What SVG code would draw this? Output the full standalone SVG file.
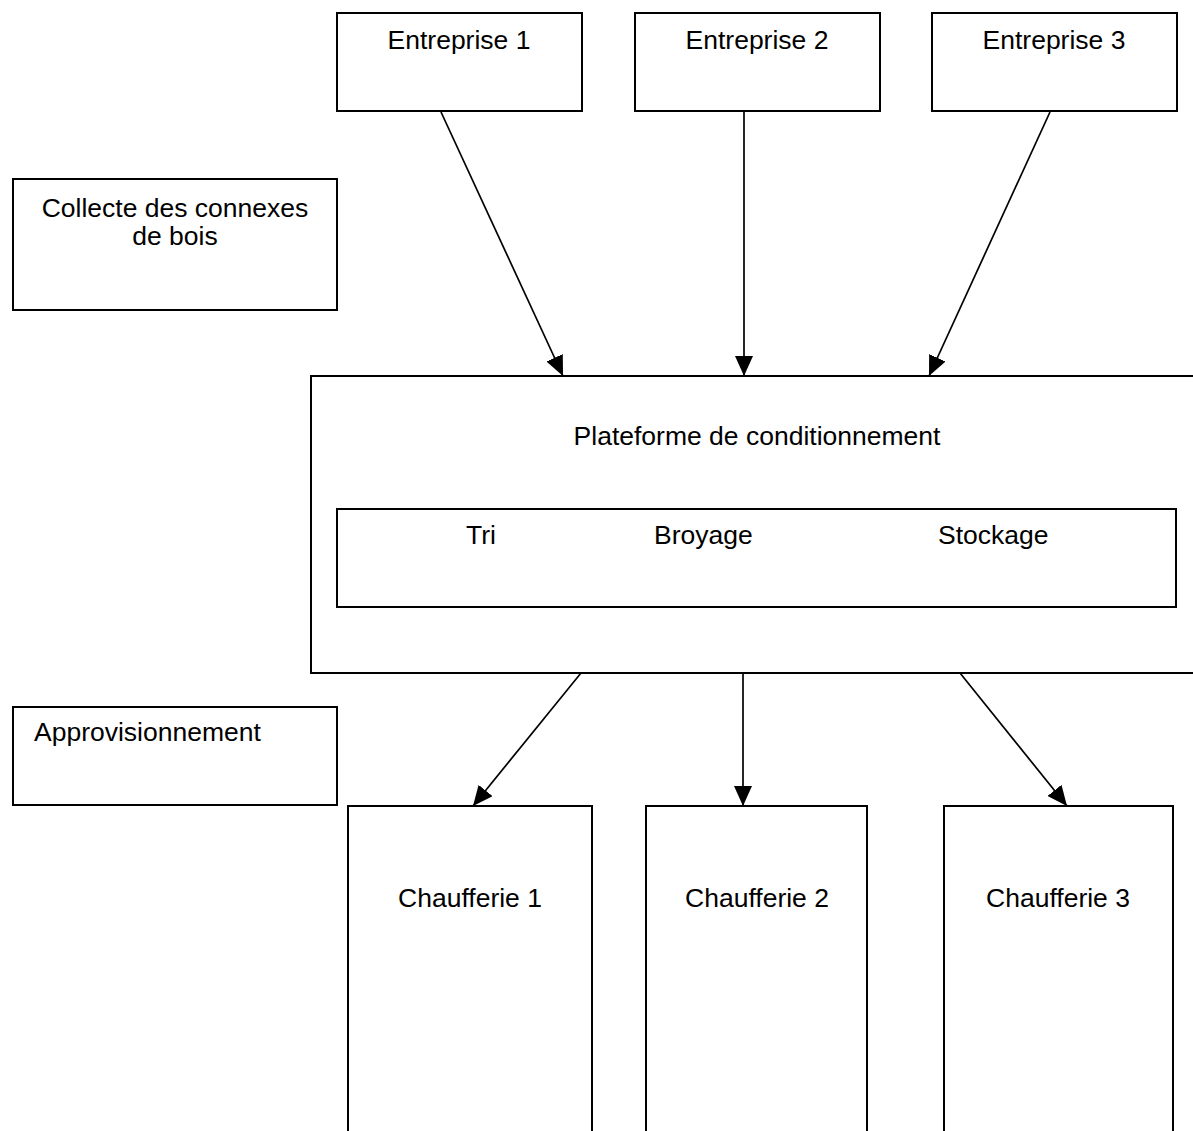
<svg xmlns="http://www.w3.org/2000/svg" width="1193" height="1131" viewBox="0 0 1193 1131">
<defs>
<style>
.box{fill:#fff;stroke:#000;stroke-width:2}
.open{fill:none;stroke:#000;stroke-width:2}
.t{font-family:"Liberation Sans",Arial,sans-serif;font-size:26.5px;fill:#000}
.c{text-anchor:middle}
.ln{stroke:#000;stroke-width:1.7;fill:none;marker-end:url(#ah)}
</style>
<marker id="ah" markerUnits="userSpaceOnUse" markerWidth="20" markerHeight="18" viewBox="0 0 20 18" refX="20" refY="9" orient="auto">
<path d="M0,0 L20,9 L0,18 Z" fill="#000"/>
</marker>
</defs>
<rect width="1193" height="1131" fill="#fff"/>
<g id="entreprise1"><rect class="box" x="337" y="13" width="245" height="98"/><text class="t c" x="459" y="49">Entreprise 1</text></g>
<g id="entreprise2"><rect class="box" x="635" y="13" width="245" height="98"/><text class="t c" x="757" y="49">Entreprise 2</text></g>
<g id="entreprise3"><rect class="box" x="932" y="13" width="245" height="98"/><text class="t c" x="1054" y="49">Entreprise 3</text></g>
<g id="collecte"><rect class="box" x="13" y="179" width="324" height="131"/><text class="t c" x="175" y="217">Collecte des connexes</text><text class="t c" x="175" y="245">de bois</text></g>
<g id="plateforme"><path class="open" d="M1194,376 H311 V673 H1194"/><text class="t c" x="757" y="445">Plateforme de conditionnement</text></g>
<g id="etapes"><rect class="box" x="337" y="509" width="839" height="98"/><text class="t" x="466" y="544">Tri</text><text class="t" x="654" y="544">Broyage</text><text class="t" x="938" y="544">Stockage</text></g>
<g id="approvisionnement"><rect class="box" x="13" y="707" width="324" height="98"/><text class="t" x="34" y="741">Approvisionnement</text></g>
<g id="chaufferie1"><path class="open" d="M348,1132 V806 H592 V1132"/><text class="t c" x="470" y="907">Chaufferie 1</text></g>
<g id="chaufferie2"><path class="open" d="M646,1132 V806 H867 V1132"/><text class="t c" x="757" y="907">Chaufferie 2</text></g>
<g id="chaufferie3"><path class="open" d="M944,1132 V806 H1173 V1132"/><text class="t c" x="1058" y="907">Chaufferie 3</text></g>
<g id="connectors">
<line class="ln" x1="441" y1="112" x2="563" y2="376"/>
<line class="ln" x1="744" y1="112" x2="744" y2="376"/>
<line class="ln" x1="1050" y1="112" x2="929" y2="376"/>
<line class="ln" x1="581" y1="673" x2="473" y2="806"/>
<line class="ln" x1="743" y1="673" x2="743" y2="806"/>
<line class="ln" x1="960" y1="673" x2="1067" y2="806"/>
</g>
</svg>
